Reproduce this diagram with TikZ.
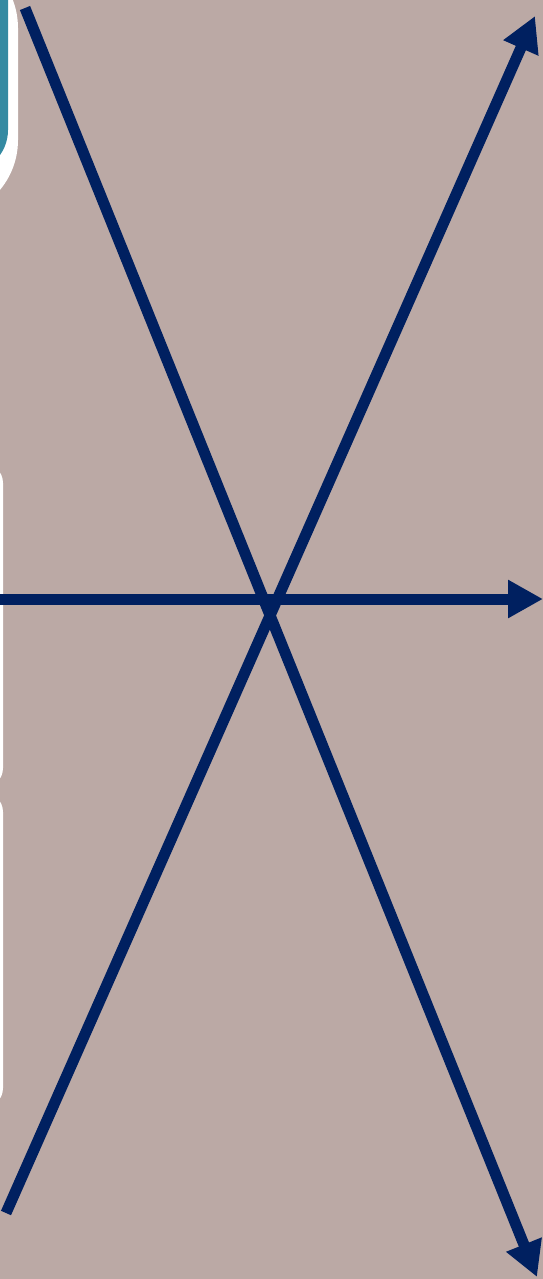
\documentclass[tikz,border=0pt]{standalone}
\usetikzlibrary{arrows.meta}
\definecolor{taupe}{RGB}{187,169,165}
\definecolor{navy}{RGB}{0,32,96}
\definecolor{tealbox}{RGB}{52,138,162}
\tikzset{
  ray/.style  = {navy, line width=0.22cm, -{Triangle[length=0.7cm,width=0.72cm]}},
  rim/.style  = {fill=white},
}
\begin{document}
\begin{tikzpicture}[x=0.02cm,y=-0.02cm]
  \useasboundingbox (0,0) rectangle (543,1279);
  \clip (0,0) rectangle (543,1279);
  \fill[taupe] (0,0) rectangle (543,1279);
  % boxes cut off at the left edge
  \fill[rim,rounded corners=1.56cm] (-200,-50) rectangle (18,218);
  \fill[tealbox,rounded corners=0.86cm] (-200,-50) rectangle (8,173);
  \fill[rim,rounded corners=0.4cm] (-50,463) rectangle (3,788);
  \fill[rim,rounded corners=0.4cm] (-50,792) rectangle (3,1108);
  % end points
  \coordinate (nw) at (25,8);
  \coordinate (se) at (537,1277);
  \coordinate (sw) at (6,1213);
  \coordinate (ne) at (535,16);
  \coordinate (w)  at (-10,599);
  \coordinate (e)  at (543,599);
  \draw[ray] (w) -- (e);
  \draw[ray] (sw) -- (ne);
  \draw[ray] (nw) -- (se);
\end{tikzpicture}
\end{document}
